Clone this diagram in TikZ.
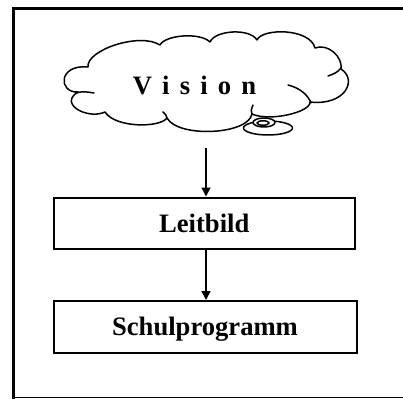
\documentclass[tikz,border=0pt]{standalone}
\usepackage{fontspec}
\setmainfont{Liberation Serif}
\usetikzlibrary{arrows.meta}
\begin{document}
\begin{tikzpicture}[x=1pt,y=-1pt,
  cloudline/.style={line width=1.5pt, line join=round, line cap=round},
  big/.style={font=\fontsize{26.6}{30}\selectfont\bfseries},
  box/.style={draw, line width=2pt, inner sep=0pt, text height=18pt, text depth=0pt, big},
  arr/.style={line width=1.5pt, -{Triangle[width=9pt,length=9pt]}},
  frameline/.style={line width=3pt}]
\useasboundingbox (0,0) rectangle (403,398);
% frame
\draw[frameline] (406,9) -- (13,9) -- (13,400);
\draw[line width=1.3pt] (13,397.3) -- (406,397.3);
% cloud
\draw[cloudline, fill=white]
  (78,92) .. controls (58,93) and (58,64) .. (88,67)
  .. controls (86,50) and (140,32) .. (160,45)
  .. controls (165,35) and (200,32) .. (210,42)
  .. controls (215,30) and (250,28) .. (257,40)
  .. controls (262,28) and (310,28) .. (315,48)
  .. controls (328,43) and (343,57) .. (341,69)
  .. controls (358,80) and (345,106) .. (310,102)
  .. controls (311,112) and (270,122) .. (252,114)
  .. controls (248,135) and (178,138) .. (167,118)
  .. controls (160,128) and (115,128) .. (105,112)
  .. controls (88,120) and (58,104) .. (78,92) -- cycle;
% inner arcs of the cloud
\draw[cloudline] (76,93) .. controls (82,91) and (88,92) .. (94,93);
\draw[cloudline] (288,85) .. controls (300,88) and (308,95) .. (311,103);
\draw[cloudline] (328,76) .. controls (334,74) and (338,72) .. (341,68);
\draw[cloudline] (252,114) .. controls (251,110) .. (253,105);
\draw[cloudline] (167,118) .. controls (166,115) .. (163,112);
% tail ellipses
\draw[cloudline, fill=white] (268,128) ellipse [x radius=24.5, y radius=7];
\draw[cloudline, fill=white] (264,122.5) ellipse [x radius=11, y radius=4.5];
\draw[cloudline] (263,123) ellipse [x radius=6, y radius=2.2];
% nodes
\node[anchor=base, big] (vision) at (194.5,94.5)
  {V\hspace{10.2pt}i\hspace{10.2pt}s\hspace{10.2pt}i\hspace{10.2pt}o\hspace{10.2pt}n};
\node[box, minimum width=301.5pt, minimum height=51.5pt] (leit) at (204.25,223.25) {Leitbild};
\node[box, minimum width=303pt, minimum height=51.5pt] (schul) at (205,326.75) {Schulprogramm};
% connectors
\coordinate (cloudfoot) at (206,148);
\coordinate (ax) at (206,0);
\draw[arr] (cloudfoot) -- (leit.north -| ax);
\draw[arr] (leit.south -| ax) -- (schul.north -| ax);
\end{tikzpicture}
\end{document}
